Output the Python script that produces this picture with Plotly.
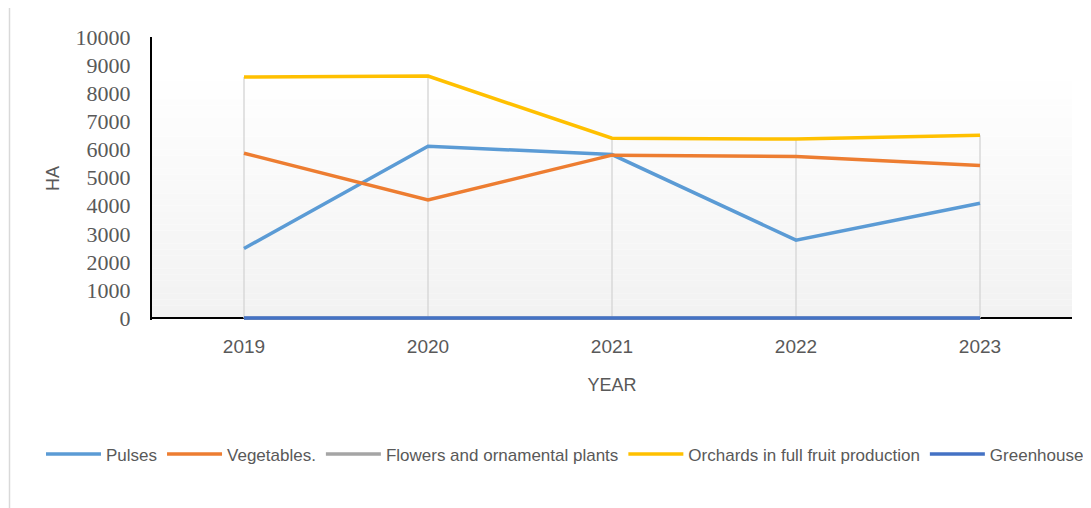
import plotly.graph_objects as go

years = ["2019", "2020", "2021", "2022", "2023"]
pulses = [2480, 6120, 5820, 2780, 4090]
vegetables = [5870, 4210, 5800, 5750, 5430]
flowers = [6, 7, 5, 5, 6]
orchards = [8580, 8610, 6400, 6370, 6510]
greenhouses = [10, 12, 11, 10, 12]

series = [
    ("Pulses", pulses, "#5B9BD5"),
    ("Vegetables.", vegetables, "#ED7D31"),
    ("Flowers and ornamental plants", flowers, "#A5A5A5"),
    ("Orchards in full fruit production", orchards, "#FFC000"),
    ("Greenhouses", greenhouses, "#4472C4"),
]

OFF = 8  # page body margin
W, H = 1091, 508
YMIN, YMAX = -60, 10000
L_s, R_s, T_s = 152, 1072, 37
B_s = 318 + (0 - YMIN) * (318 - T_s) / YMAX  # so that value 0 sits at y=318
ml, mt = L_s - OFF, T_s - OFF
mr = W - (R_s - OFF)
mb = H - (B_s - OFF)
pw, ph = W - ml - mr, H - mt - mb

def px_x(sx):
    return (sx - L_s) / pw

def px_y(sy):
    return (B_s - sy) / ph

fig = go.Figure()

dx, dy = [], []
for i, yr in enumerate(years):
    top = max(s[1][i] for s in series)
    dx += [yr, yr, None]
    dy += [0, top, None]
fig.add_trace(go.Scatter(x=dx, y=dy, mode="lines", line=dict(color="#D9D9D9", width=1.5),
                         showlegend=False, hoverinfo="skip"))

for name, vals, col in series:
    fig.add_trace(go.Scatter(x=years, y=vals, mode="lines", name=name,
                             line=dict(color=col, width=3.5)))

shapes = []
n = 40
top_p = px_y(68)
bot_p = px_y(318)
for k in range(n):
    y0 = bot_p + (top_p - bot_p) * k / n
    y1 = bot_p + (top_p - bot_p) * (k + 1) / n
    t = 1 - (k + 0.5) / n
    v = int(round(255 - (255 - 242) * t))
    shapes.append(dict(type="rect", xref="paper", yref="paper", x0=0, x1=1, y0=y0, y1=y1,
                       fillcolor=f"rgb({v},{v},{v})", line=dict(width=0), layer="below"))
shapes.append(dict(type="line", xref="paper", yref="paper",
                   x0=px_x(9.5), x1=px_x(1110), y0=px_y(7), y1=px_y(7),
                   line=dict(color="#D9D9D9", width=1.5)))
shapes.append(dict(type="line", xref="paper", yref="paper",
                   x0=px_x(9.5), x1=px_x(9.5), y0=px_y(7), y1=px_y(530),
                   line=dict(color="#D9D9D9", width=1.5)))

sans = "Liberation Sans, Arial, sans-serif"

fig.update_layout(
    width=W, height=H,
    margin=dict(l=ml, r=mr, t=mt, b=mb),
    paper_bgcolor="white", plot_bgcolor="rgba(0,0,0,0)",
    shapes=shapes,
    showlegend=True,
    legend=dict(orientation="h", x=px_x(41), xanchor="left", y=px_y(436), yanchor="top",
                font=dict(family=sans, size=17, color="#595959"),
                itemwidth=55, tracegroupgap=0, bgcolor="rgba(0,0,0,0)"),
    xaxis=dict(type="category", range=[-0.5, 4.5], showgrid=False, showline=False,
               ticks="outside", ticklen=9, tickcolor="rgba(0,0,0,0)",
               tickfont=dict(family=sans, size=19, color="#595959"),
               title=dict(text="YEAR", font=dict(family=sans, size=18, color="#595959"), standoff=22),
               zeroline=False),
    yaxis=dict(range=[YMIN, YMAX], tick0=0, dtick=1000, showgrid=False, showline=True,
               linecolor="black", linewidth=2,
               zeroline=True, zerolinecolor="black", zerolinewidth=2,
               ticks="outside", ticklen=15, tickcolor="rgba(0,0,0,0)",
               tickfont=dict(family="Liberation Serif, Times New Roman, serif", size=22, color="#595959"),
               tickformat="d",
               title=dict(text="HA", font=dict(family=sans, size=18, color="#595959"), standoff=11)),
)

fig.write_html("out.html")
